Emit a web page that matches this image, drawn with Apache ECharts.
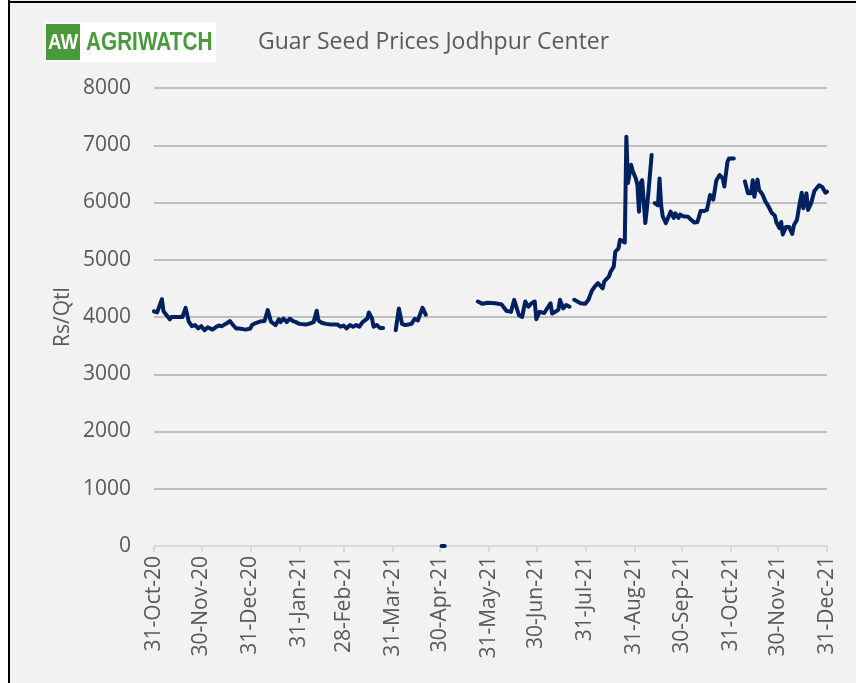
<!DOCTYPE html>
<html>
<head>
<meta charset="utf-8">
<script src="https://cdn.jsdelivr.net/npm/echarts@6/dist/echarts.min.js"></script>
<style>
html, body { margin: 0; padding: 0; background: #fff; }
#main { width: 856px; height: 683px; }
</style>
</head>
<body>
<div id="main"></div>
<script>
// Guar seed prices, Jodhpur (Rs/Qtl); null = no quote (line break)
var dates = [
    '2020-10-31', '2020-11-02', '2020-11-05', '2020-11-06', '2020-11-08', '2020-11-10', '2020-11-11', '2020-11-18',
    '2020-11-20', '2020-11-22', '2020-11-24', '2020-11-26', '2020-11-28', '2020-11-30', '2020-12-02', '2020-12-04',
    '2020-12-07', '2020-12-09', '2020-12-11', '2020-12-13', '2020-12-16', '2020-12-18', '2020-12-20', '2020-12-22',
    '2020-12-24', '2020-12-28', '2020-12-31', '2021-01-01', '2021-01-03', '2021-01-06', '2021-01-09', '2021-01-11',
    '2021-01-13', '2021-01-16', '2021-01-18', '2021-01-19', '2021-01-21', '2021-01-23', '2021-01-25', '2021-01-27',
    '2021-01-29', '2021-01-31', '2021-02-04', '2021-02-06', '2021-02-09', '2021-02-11', '2021-02-12', '2021-02-14',
    '2021-02-17', '2021-02-20', '2021-02-24', '2021-02-26', '2021-02-28', '2021-03-02', '2021-03-04', '2021-03-06',
    '2021-03-08', '2021-03-10', '2021-03-12', '2021-03-15', '2021-03-16', '2021-03-18', '2021-03-19', '2021-03-21',
    '2021-03-23', '2021-03-25', '2021-03-28',
    '2021-04-02', '2021-04-04', '2021-04-06', '2021-04-08', '2021-04-10', '2021-04-12', '2021-04-14', '2021-04-16',
    '2021-04-18', '2021-04-19', '2021-04-21', '2021-04-24',
    '2021-05-01', '2021-05-03', '2021-05-09',
    '2021-05-24', '2021-05-27', '2021-05-30', '2021-06-04', '2021-06-08', '2021-06-11', '2021-06-14', '2021-06-16',
    '2021-06-19', '2021-06-21', '2021-06-23', '2021-06-25', '2021-06-27', '2021-06-29', '2021-06-30', '2021-07-02',
    '2021-07-05', '2021-07-09', '2021-07-10', '2021-07-12', '2021-07-14', '2021-07-15', '2021-07-17', '2021-07-19',
    '2021-07-21', '2021-07-23', '2021-07-24', '2021-07-28', '2021-07-31', '2021-08-02', '2021-08-04', '2021-08-06',
    '2021-08-08', '2021-08-11', '2021-08-12', '2021-08-15', '2021-08-16', '2021-08-18', '2021-08-19', '2021-08-21',
    '2021-08-22', '2021-08-23', '2021-08-25', '2021-08-26', '2021-08-27', '2021-08-28', '2021-08-29', '2021-08-30',
    '2021-09-01', '2021-09-02', '2021-09-03', '2021-09-04', '2021-09-05', '2021-09-07', '2021-09-08', '2021-09-09',
    '2021-09-11', '2021-09-12',
    '2021-09-13', '2021-09-15', '2021-09-16', '2021-09-17', '2021-09-18', '2021-09-20', '2021-09-23', '2021-09-25',
    '2021-09-26', '2021-09-28', '2021-09-29', '2021-10-01', '2021-10-04', '2021-10-06', '2021-10-08', '2021-10-10',
    '2021-10-12', '2021-10-14', '2021-10-16', '2021-10-18', '2021-10-20', '2021-10-22', '2021-10-23', '2021-10-24',
    '2021-10-26', '2021-10-27', '2021-10-29', '2021-10-30', '2021-11-02', '2021-11-06',
    '2021-11-09', '2021-11-11', '2021-11-13', '2021-11-14', '2021-11-15', '2021-11-17', '2021-11-18', '2021-11-20',
    '2021-11-22', '2021-11-24', '2021-11-26', '2021-11-28', '2021-11-29', '2021-12-01', '2021-12-02', '2021-12-03',
    '2021-12-05', '2021-12-07', '2021-12-09', '2021-12-10', '2021-12-12', '2021-12-14', '2021-12-15', '2021-12-16',
    '2021-12-18', '2021-12-19', '2021-12-21', '2021-12-23', '2021-12-26', '2021-12-28', '2021-12-30', '2021-12-31'
];
var prices = [
    4100, 4080, 4310, 4100, 4030, 3960, 4000, 4000,
    4160, 3920, 3840, 3860, 3800, 3840, 3770, 3820,
    3780, 3820, 3850, 3840, 3890, 3930, 3860, 3800,
    3800, 3780, 3800, 3860, 3890, 3920, 3930, 4120,
    3920, 3860, 3960, 3910, 3970, 3910, 3970, 3930,
    3910, 3880, 3870, 3880, 3910, 4110, 3940, 3900,
    3880, 3870, 3870, 3830, 3850, 3800, 3860, 3830,
    3860, 3830, 3910, 3970, 4080, 3970, 3830, 3860,
    3810, 3810, null,
    3770, 4150, 3880, 3860, 3870, 3880, 3970, 3940,
    4090, 4160, 4040, null,
    0, 0, null,
    4270, 4230, 4250, 4240, 4220, 4110, 4090, 4300,
    4030, 4000, 4270, 4180, 4240, 4270, 3960, 4090,
    4070, 4240, 4060, 4090, 4130, 4300, 4150, 4210,
    4180, null, 4300, 4240, 4230, 4300, 4450, 4530,
    4590, 4500, 4620, 4710, 4790, 4880, 5140, 5200,
    5350, 5360, 5300, 7150, 6340, 6330, 6660, 6550,
    6420, 6300, 5840, 6340, 6390, 5640, 5900, 6190,
    6830, null,
    5990, 5950, 6420, 5960, 5760, 5640, 5840, 5730,
    5810, 5730, 5790, 5760, 5750, 5700, 5650, 5660,
    5850, 5850, 5870, 6130, 6050, 6390, 6360, 6480,
    6420, 6280, 6710, 6770, 6770, null,
    6370, 6160, 6160, 6390, 6100, 6400, 6220, 6150,
    6020, 5930, 5820, 5770, 5650, 5550, 5660, 5440,
    5570, 5570, 5450, 5600, 5700, 6030, 6170, 5900,
    6160, 5870, 5990, 6200, 6300, 6270, 6170, 6190
];
var tickDates = [
    '2020-10-31', '2020-11-30', '2020-12-31', '2021-01-31', '2021-02-28', '2021-03-31', '2021-04-30',
    '2021-05-31', '2021-06-30', '2021-07-31', '2021-08-31', '2021-09-30', '2021-10-31', '2021-11-30', '2021-12-31'
];
var monthNames = ['Jan', 'Feb', 'Mar', 'Apr', 'May', 'Jun', 'Jul', 'Aug', 'Sep', 'Oct', 'Nov', 'Dec'];

// dates -> UTC timestamps, x axis is a plain value axis so ticks can sit on month ends
var toTime = function (s) {
    var p = s.split('-');
    return Date.UTC(+p[0], +p[1] - 1, +p[2]);
};
var tickValues = tickDates.map(toTime);

var seriesData = dates.map(function (d, i) {
    return [toTime(d), prices[i] === null ? '-' : prices[i]];
});

var textColor = '#595959';
var font = 'Open Sans';

var myChart = echarts.init(document.getElementById('main'));

var option = {
    backgroundColor: '#f2f2f2',
    animation: false,
    grid: {
        left: 154,
        right: 29,
        top: 88,
        bottom: 137
    },
    xAxis: {
        type: 'value',
        min: tickValues[0],
        max: tickValues[tickValues.length - 1],
        axisLine: {
            onZero: false,
            lineStyle: { color: '#d9d9d9', width: 2 }
        },
        axisTick: {
            show: true,
            length: 6,
            customValues: tickValues,
            lineStyle: { color: '#d9d9d9', width: 2 }
        },
        axisLabel: {
            customValues: tickValues,
            rotate: 90,
            margin: 10,
            color: textColor,
            fontSize: 21,
            fontFamily: font,
            formatter: function (value) {
                var d = new Date(value);
                return d.getUTCDate() + '-' + monthNames[d.getUTCMonth()] + '-' + String(d.getUTCFullYear()).slice(2);
            }
        },
        splitLine: { show: false }
    },
    yAxis: {
        type: 'value',
        min: 0,
        max: 8000,
        interval: 1000,
        name: 'Rs/Qtl',
        nameLocation: 'middle',
        nameGap: 80,
        nameMoveOverlap: false,
        nameTextStyle: {
            color: textColor,
            fontSize: 21,
            fontFamily: font
        },
        axisLine: { show: false },
        axisTick: { show: false },
        axisLabel: {
            margin: 23,
            color: textColor,
            fontSize: 21,
            fontFamily: font,
            formatter: function (value) {
                return String(value);
            }
        },
        splitLine: {
            lineStyle: { color: '#bfbfbf', width: 2 }
        }
    },
    graphic: [
        // frame
        { type: 'rect', shape: { x: 0, y: 0, width: 8, height: 683 }, style: { fill: '#fff' } },
        { type: 'line', shape: { x1: 9, y1: 0, x2: 9, y2: 683 }, style: { stroke: '#000', lineWidth: 2 } },
        { type: 'line', shape: { x1: 9, y1: 2, x2: 856, y2: 2 }, style: { stroke: '#000', lineWidth: 2 } },
        // logo
        { type: 'rect', shape: { x: 45, y: 22, width: 171, height: 40 }, style: { fill: '#fff' } },
        { type: 'rect', shape: { x: 46, y: 24, width: 34, height: 36 }, style: { fill: '#4a9a3b' } },
        {
            type: 'text', x: 63, y: 43, scaleX: 0.85,
            style: {
                text: 'AW', fill: '#fff', align: 'center', verticalAlign: 'middle',
                font: 'bold 22px "Liberation Sans"'
            }
        },
        {
            type: 'text', x: 86, y: 43, scaleX: 0.83,
            style: {
                text: 'AGRIWATCH', fill: '#4a9a3b', verticalAlign: 'middle',
                font: 'bold 25px "Liberation Sans"'
            }
        },
        // title
        {
            type: 'text', x: 258, y: 42,
            style: {
                text: 'Guar Seed Prices Jodhpur Center', fill: textColor, verticalAlign: 'middle',
                font: '23px "Open Sans"'
            }
        }
    ],
    series: [
        {
            type: 'line',
            data: seriesData,
            showSymbol: false,
            connectNulls: false,
            clip: false,
            lineStyle: { color: '#002060', width: 4, cap: 'round', join: 'round' },
            itemStyle: { color: '#002060' }
        }
    ]
};
myChart.setOption(option);
</script>
</body>
</html>
